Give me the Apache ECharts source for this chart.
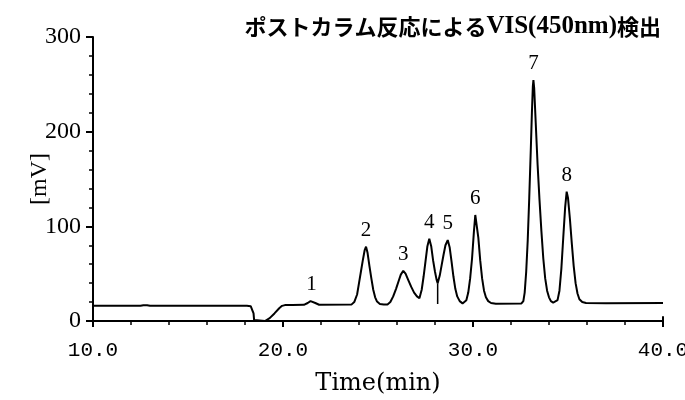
<!DOCTYPE html>
<html>
<head>
<meta charset="utf-8">
<script src="https://cdn.jsdelivr.net/npm/echarts@6/dist/echarts.min.js"></script>
<style>
  html, body { margin: 0; padding: 0; background: #fff; }
  #chart { width: 685px; height: 400px; }
</style>
</head>
<body>
<div id="chart"></div>
<script>
// Detector trace: [time (min), signal (mV)]
const trace = [
  [10.0, 16.0], [12.5, 16.1], [12.65, 16.6], [12.75, 18.6], [12.85, 16.6], [13.0, 16.1],
  [18.1, 16.0], [18.3, 15.6], [18.4, 14.0], [18.45, 8], [18.48, 1], [18.5, 0],
  [19.05, 0], [19.3, 3], [19.55, 8], [19.8, 13.5], [19.95, 16.0], [20.1, 16.8], [20.5, 17.0],
  [21.1, 17.1], [21.3, 19], [21.45, 21.0], [21.55, 21.0], [21.7, 19], [21.9, 17.2],
  [23.6, 17.3], [23.75, 20], [23.9, 28], [24.0, 40], [24.1, 52], [24.2, 64], [24.3, 75],
  [24.37, 78.5], [24.45, 72], [24.55, 58], [24.65, 45], [24.75, 33], [24.85, 25],
  [24.95, 20.5], [25.1, 18], [25.3, 17.5],
  [25.5, 17.5], [25.65, 20], [25.8, 26], [25.95, 34], [26.1, 43], [26.2, 49], [26.33, 53],
  [26.45, 50], [26.6, 43], [26.75, 36], [26.9, 30], [27.05, 26], [27.18, 24],
  [27.3, 33], [27.4, 47], [27.5, 63], [27.6, 79], [27.7, 87], [27.8, 79], [27.9, 64],
  [28.0, 52], [28.08, 44], [28.14, 40],
  [28.25, 48], [28.35, 59], [28.45, 70], [28.55, 80], [28.67, 85.5], [28.77, 78],
  [28.87, 63], [28.97, 47], [29.07, 34], [29.17, 26], [29.3, 21], [29.45, 18.6], [29.55, 18.5],
  [29.65, 22], [29.75, 30], [29.85, 45], [29.95, 66], [30.05, 95], [30.12, 112],
  [30.18, 110], [30.28, 88], [30.38, 64], [30.48, 45], [30.58, 32], [30.68, 25],
  [30.8, 21], [30.95, 19], [31.2, 18.3],
  [32.55, 18.5], [32.65, 21], [32.72, 30], [32.8, 52], [32.88, 85], [32.96, 130],
  [33.04, 180], [33.1, 220], [33.15, 248], [33.18, 254.6], [33.22, 246], [33.3, 210],
  [33.4, 165], [33.5, 128], [33.6, 95], [33.7, 66], [33.8, 45], [33.9, 32], [34.0, 25],
  [34.1, 21], [34.22, 19.5], [34.3, 19.2],
  [34.45, 22], [34.55, 32], [34.65, 55], [34.75, 88], [34.85, 120], [34.93, 136.6],
  [35.0, 130], [35.1, 108], [35.2, 82], [35.3, 58], [35.4, 40], [35.5, 29], [35.6, 23],
  [35.75, 20], [35.95, 19], [37.0, 18.8], [40.0, 19.0]
];

// Numbered peak apexes
const peakTimes   = [21.5, 24.37, 26.33, 27.7, 28.67, 30.12, 33.18, 34.93];
const peakHeights = [21.0, 78.5, 53, 87, 85.5, 112, 254.6, 136.6];
const peakNames   = ['1', '2', '3', '4', '5', '6', '7', '8'];

// Perpendicular drop between peaks 4 and 5
const dropTime = 28.14;
const dropTop = 40;
const dropBase = 17.9;

const xTicks = [10, 20, 30, 40];
const yTicks = [0, 100, 200, 300];

const serif = '"Liberation Serif", "DejaVu Serif", serif';

const chart = echarts.init(document.getElementById('chart'), null, { renderer: 'canvas' });

chart.setOption({
  backgroundColor: '#fff',
  animation: false,
  title: {
    text: '{jp|ポストカラム反応による}{en|VIS(450nm)}{jp|検出}',
    right: 19,
    top: 9,
    textStyle: {
      rich: {
        jp: { fontFamily: '"Noto Sans CJK JP"', fontSize: 22, fontWeight: 'bold', color: '#000' },
        en: { fontFamily: serif, fontSize: 25, fontWeight: 'bold', color: '#000' }
      }
    }
  },
  grid: { left: 93, right: 22, top: 37, bottom: 79, outerBoundsMode: 'none', containLabel: false },
  xAxis: {
    type: 'value',
    min: xTicks[0],
    max: xTicks[xTicks.length - 1],
    interval: 10,
    name: 'Time(min)',
    nameLocation: 'middle',
    nameGap: 51,
    nameMoveOverlap: false,
    nameTextStyle: { fontFamily: '"DejaVu Serif", serif', fontSize: 24, color: '#000' },
    axisLine: { lineStyle: { color: '#000', width: 2 } },
    axisTick: { inside: false, length: 6, lineStyle: { color: '#000', width: 2 } },
    minorTick: { show: true, splitNumber: 5, length: 4, lineStyle: { color: '#000', width: 1.5 } },
    axisLabel: {
      margin: 19,
      fontFamily: '"Liberation Mono", monospace',
      fontSize: 21,
      color: '#000',
      formatter: v => v.toFixed(1)
    },
    splitLine: { show: false }
  },
  yAxis: {
    type: 'value',
    min: yTicks[0],
    max: yTicks[yTicks.length - 1],
    interval: 100,
    name: '[mV]',
    nameLocation: 'middle',
    nameGap: 41,
    nameMoveOverlap: false,
    nameRotate: 90,
    nameTextStyle: { fontFamily: serif, fontSize: 24, color: '#000' },
    axisLine: { show: true, lineStyle: { color: '#000', width: 2 } },
    axisTick: { show: true, inside: false, length: 7, lineStyle: { color: '#000', width: 2 } },
    minorTick: { show: true, splitNumber: 5, length: 4, lineStyle: { color: '#000', width: 1.5 } },
    axisLabel: { margin: 12, fontFamily: serif, fontSize: 24, color: '#000' },
    splitLine: { show: false }
  },
  series: [
    {
      type: 'line',
      data: trace,
      showSymbol: false,
      smooth: false,
      lineStyle: { color: '#000', width: 2 },
      z: 3
    },
    {
      type: 'line',
      data: [[dropTime, dropBase], [dropTime, dropTop]],
      showSymbol: false,
      lineStyle: { color: '#000', width: 1.5 },
      z: 2
    },
    {
      // short end cap at the right end of the time axis
      type: 'line',
      data: [[xTicks[xTicks.length - 1], 0], [xTicks[xTicks.length - 1], 5]],
      showSymbol: false,
      lineStyle: { color: '#000', width: 2 },
      z: 2
    },
    {
      type: 'scatter',
      symbolSize: 0,
      itemStyle: { opacity: 1 },
      data: peakTimes.map((t, i) => ({ value: [t, peakHeights[i]], name: peakNames[i] })),
      label: {
        show: true,
        position: 'top',
        distance: 6,
        formatter: p => p.name,
        fontFamily: serif,
        fontSize: 21,
        color: '#000',
        opacity: 1
      },
      z: 4
    }
  ]
});
</script>
</body>
</html>
